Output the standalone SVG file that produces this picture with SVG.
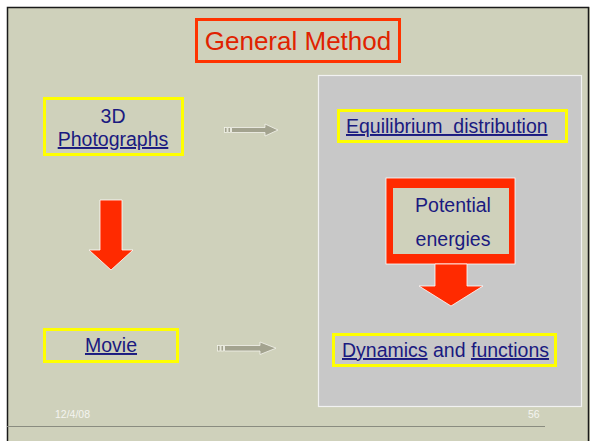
<svg xmlns="http://www.w3.org/2000/svg" width="590" height="441" viewBox="0 0 590 441">
<style>
.t{font-family:"Liberation Sans",Arial,sans-serif;fill:#1A1A80;font-size:19.5px}
.u{text-decoration:underline}
.yb{fill:none;stroke:#FFFF00;stroke-width:3}
.ft{font-family:"Liberation Sans",Arial,sans-serif;fill:#F4F4F0;font-size:10.5px}
.red{fill:#FF2A00;stroke:#FFFFFF;stroke-width:0.8}
.ga{fill:#A3A38F;stroke:#F4F4EC;stroke-width:0.8}
</style>
<rect x="0" y="0" width="590" height="441" fill="#FFFFFF"/>
<rect x="7" y="7" width="583" height="434" fill="#CFD1BB"/>
<path d="M7.5 441V7.5H588.5V441" fill="none" stroke="#1A1A1A" stroke-width="1.5"/>
<g id="panel"><rect x="318.5" y="75.5" width="263" height="331" fill="#C8C8C8" stroke="#F2F2F2" stroke-width="1.2"/></g>
<g id="title"><rect x="196.5" y="19.5" width="203" height="42" fill="none" stroke="#FF3300" stroke-width="3"/><text x="298" y="50" text-anchor="middle" font-family="Liberation Sans,Arial,sans-serif" font-size="26" fill="#E02200">General Method</text></g>
<g id="photographs"><rect class="yb" x="44.5" y="98.5" width="138" height="56"/><text class="t" x="113" y="123" text-anchor="middle">3D</text><text class="t u" x="113" y="146" text-anchor="middle">Photographs</text></g>
<g id="movie"><rect class="yb" x="44.5" y="329.5" width="133" height="32"/><text class="t u" x="111" y="352" text-anchor="middle">Movie</text></g>
<g id="equilibrium"><rect class="yb" x="338.5" y="110.5" width="228" height="31"/><text class="t u" x="346" y="133" xml:space="preserve">Equilibrium  distribution</text></g>
<g id="potential"><rect x="386" y="178" width="129" height="86" fill="#FF2A00" stroke="#FFFFFF" stroke-width="0.8"/><rect x="393" y="188" width="116" height="66" fill="#CFD1BB"/><text class="t" x="453" y="212" text-anchor="middle">Potential</text><text class="t" x="453" y="246" text-anchor="middle">energies</text></g>
<g id="dynamics"><rect class="yb" x="333.5" y="334.5" width="222" height="31"/><text class="t" x="342" y="357"><tspan class="u">Dynamics</tspan> and <tspan class="u">functions</tspan></text></g>
<g id="connectors">
<path class="red" d="M100 200H122V250H133L111 270L89 250H100Z"/>
<path class="red" d="M435 264H467V286H483L451 306L419 286H435Z"/>
<g class="ga"><rect x="224.5" y="127.5" width="2.5" height="5"/><rect x="228" y="127.5" width="2.5" height="5"/><path d="M231.5 127.5H265V124L278 130L265 136V132.5H231.5Z"/></g>
<g class="ga"><rect x="217.5" y="345.5" width="2.5" height="5.5"/><rect x="221" y="345.5" width="2.5" height="5.5"/><path d="M224.5 345.5H260V342L276 348.2L260 354.5V351H224.5Z"/></g>
</g>
<g id="footer"><text class="ft" x="55" y="418">12/4/08</text><text class="ft" x="528" y="418">56</text><line x1="7" y1="426.5" x2="545" y2="426.5" stroke="#8A8C80" stroke-width="1"/></g>
</svg>
